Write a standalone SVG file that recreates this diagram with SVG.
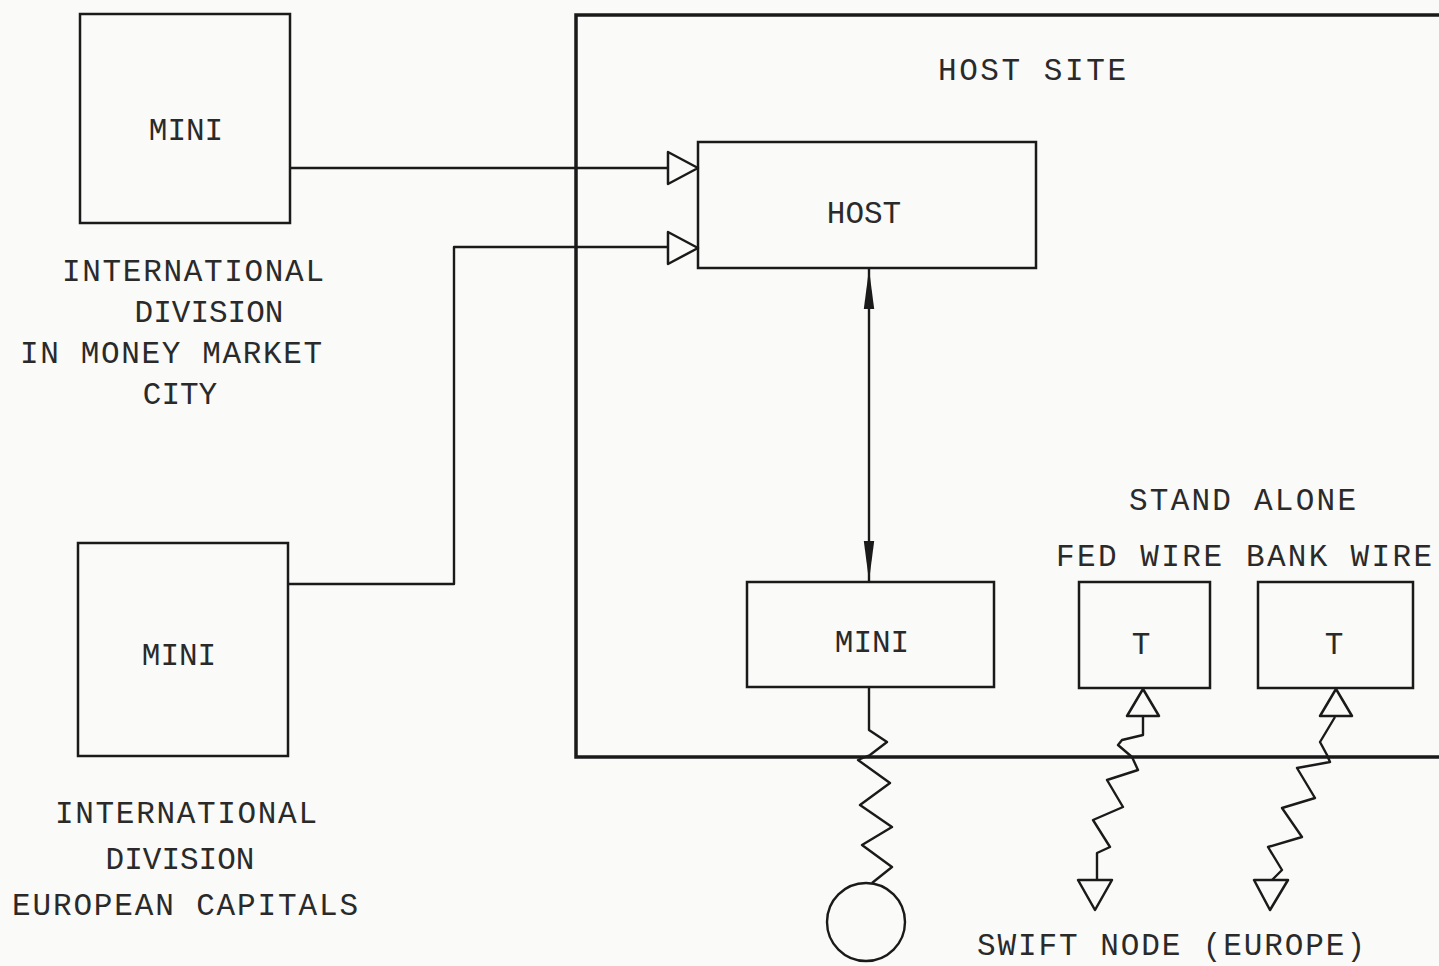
<svg xmlns="http://www.w3.org/2000/svg" width="1439" height="966" viewBox="0 0 1439 966">
<style>
.box{fill:none;stroke:#1a1a1a;stroke-width:2.5}
.site{fill:none;stroke:#1a1a1a;stroke-width:3.5}
.ln{fill:none;stroke:#1a1a1a;stroke-width:2.4;stroke-linejoin:round}
.tri{fill:#fafaf8;stroke:#1a1a1a;stroke-width:2.5;stroke-linejoin:round}
.t{font-family:"Liberation Mono",monospace;font-size:31px;fill:#2a2a2a}
.m{text-anchor:middle}
</style>
<defs>
<marker id="fa" viewBox="0 0 10 10" refX="10" refY="5" markerWidth="40" markerHeight="40" markerUnits="userSpaceOnUse" orient="auto-start-reverse">
<path d="M0,3.7 L10,5 L0,6.3 Z" fill="#1a1a1a"/>
</marker>
</defs>
<rect width="1439" height="966" fill="#fafaf8"/>

<g id="host-site">
<path class="site" d="M1445,15 H576 V757 H1445"/>
<text class="t" x="938" y="80" textLength="188">HOST SITE</text>
</g>

<g id="mini-money-market">
<rect class="box" x="80" y="14" width="210" height="209"/>
<text class="t m" x="186" y="140">MINI</text>
<text class="t m" x="193" y="281" textLength="262">INTERNATIONAL</text>
<text class="t m" x="209" y="322">DIVISION</text>
<text class="t m" x="171" y="363" textLength="302">IN MONEY MARKET</text>
<text class="t m" x="180" y="404">CITY</text>
</g>

<g id="mini-european">
<rect class="box" x="78" y="543" width="210" height="213"/>
<text class="t m" x="179" y="665">MINI</text>
<text class="t m" x="186" y="823" textLength="262">INTERNATIONAL</text>
<text class="t m" x="180" y="869">DIVISION</text>
<text class="t m" x="185" y="915" textLength="346">EUROPEAN CAPITALS</text>
</g>

<g id="host">
<rect class="box" x="698" y="142" width="338" height="126"/>
<text class="t m" x="864" y="223">HOST</text>
</g>

<g id="mini-host-site">
<rect class="box" x="747" y="582" width="247" height="105"/>
<text class="t m" x="872" y="652">MINI</text>
</g>

<g id="stand-alone-label">
<text class="t" x="1129" y="510" textLength="227">STAND ALONE</text>
</g>

<g id="fed-wire">
<rect class="box" x="1079" y="582" width="131" height="106"/>
<text class="t m" x="1141" y="654">T</text>
<text class="t" x="1056" y="566" textLength="166">FED WIRE</text>
</g>

<g id="bank-wire">
<rect class="box" x="1258" y="582" width="155" height="106"/>
<text class="t m" x="1334" y="654">T</text>
<text class="t" x="1246" y="566" textLength="186">BANK WIRE</text>
</g>

<g id="swift-node">
<circle class="ln" cx="866" cy="922" r="39"/>
<text class="t" x="977" y="955" textLength="388">SWIFT NODE (EUROPE)</text>
</g>

<g id="connectors">
<path class="ln" d="M290,168 H668"/>
<path class="tri" d="M668,152 L698,168 L668,184 Z"/>
<path class="ln" d="M288,584 H454 V247 H668"/>
<path class="tri" d="M668,232 L698,248 L668,264 Z"/>
<path class="ln" d="M869,269 V581" marker-start="url(#fa)" marker-end="url(#fa)"/>
<path class="ln" d="M869,687 V730 L887,742 L870,755 L858,760 L890,783 L860,805 L892,827 L862,845 L892,867 L872,883"/>
<path class="tri" d="M1143,689 L1159,716 L1127,716 Z"/>
<path class="ln" d="M1143,717 V735 L1122,740 L1118,745 L1132,757 L1138,770 L1107,780 L1123,807 L1093,820 L1110,847 L1097,853 V880"/>
<path class="tri" d="M1078,880 L1112,880 L1095,910 Z"/>
<path class="tri" d="M1336,689 L1352,716 L1320,716 Z"/>
<path class="ln" d="M1335,717 L1320,742 L1327,755 L1330,762 L1297,768 L1315,798 L1282,808 L1302,837 L1268,847 L1282,870 L1272,880"/>
<path class="tri" d="M1254,880 L1288,880 L1270,910 Z"/>
</g>
</svg>
